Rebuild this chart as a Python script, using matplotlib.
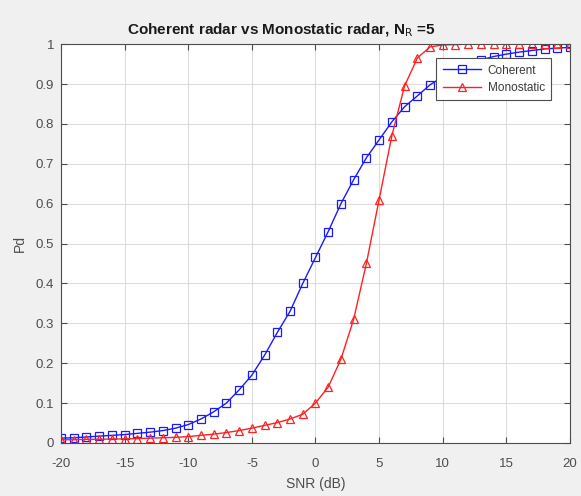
import matplotlib
matplotlib.use('Agg')
import matplotlib.pyplot as plt
import numpy as np

snr_db = np.arange(-20, 21)

pd_coherent = [0.012, 0.013, 0.015, 0.017, 0.019, 0.021, 0.024, 0.027, 0.031, 0.037,
               0.046, 0.060, 0.078, 0.100, 0.133, 0.170, 0.220, 0.277, 0.330, 0.400,
               0.465, 0.530, 0.600, 0.660, 0.715, 0.760, 0.805, 0.843, 0.870, 0.898,
               0.918, 0.934, 0.948, 0.960, 0.969, 0.975, 0.980, 0.984, 0.988, 0.990,
               0.992]
pd_monostatic = [0.008, 0.008, 0.009, 0.009, 0.010, 0.010, 0.011, 0.012, 0.013, 0.014,
                 0.016, 0.019, 0.022, 0.026, 0.031, 0.037, 0.044, 0.051, 0.060, 0.072,
                 0.100, 0.140, 0.210, 0.310, 0.450, 0.610, 0.770, 0.895, 0.965, 0.993,
                 0.998, 0.999, 1.0, 1.0, 1.0, 1.0, 1.0, 1.0, 1.0, 1.0,
                 1.0]

plt.rc('font', family='Liberation Sans', size=9)
plt.rc('axes', unicode_minus=False)

fig = plt.figure(figsize=(5.81, 4.96), dpi=100, facecolor='#f0f0f0')
ax = fig.add_axes([0.105, 0.107, 0.876, 0.804])

ax.plot(snr_db, pd_coherent, '-s', color='#1a1aff', lw=1, ms=5.5,
        mfc='none', mew=0.9, label='Coherent')
ax.plot(snr_db, pd_monostatic, '-^', color='#ff2020', lw=1, ms=6,
        mfc='none', mew=0.9, label='Monostatic')

ax.set_xlim(-20, 20)
ax.set_ylim(0, 1)
ax.set_xticks(np.arange(-20, 21, 5))
ax.set_yticks(np.arange(0, 1.01, 0.1))
ax.set_yticklabels(['0', '0.1', '0.2', '0.3', '0.4', '0.5', '0.6', '0.7', '0.8', '0.9', '1'])
ax.grid(True, color='#dcdcdc', lw=0.8)
ax.set_axisbelow(True)
ax.tick_params(direction='in', top=True, right=True, length=4, colors='#4d4d4d',
               labelsize=9.5, labelcolor='#4d4d4d')
ax.tick_params(axis='x', pad=11)
ax.tick_params(axis='y', pad=5)
for s in ax.spines.values():
    s.set_color('#4d4d4d')
    s.set_linewidth(0.8)

ax.set_xlabel('SNR (dB)', fontsize=10, color='#4d4d4d', labelpad=5)
ax.set_ylabel('Pd', fontsize=10, color='#4d4d4d', labelpad=6)
ax.set_title('Coherent radar vs Monostatic radar, N$_\\mathrm{R}$ =5', fontsize=11,
             fontweight='bold', color='#1a1a1a', x=0.432, pad=7)

leg = ax.legend(loc='upper right', bbox_to_anchor=(0.975, 0.98), fontsize=8.5,
                fancybox=False, edgecolor='#4d4d4d', framealpha=1,
                borderpad=0.55, handlelength=3.2, labelspacing=0.45, handletextpad=0.6)
leg.get_frame().set_linewidth(0.8)
for t in leg.get_texts():
    t.set_color('#3a3a3a')

plt.savefig('out.png', dpi=100, facecolor=fig.get_facecolor())
